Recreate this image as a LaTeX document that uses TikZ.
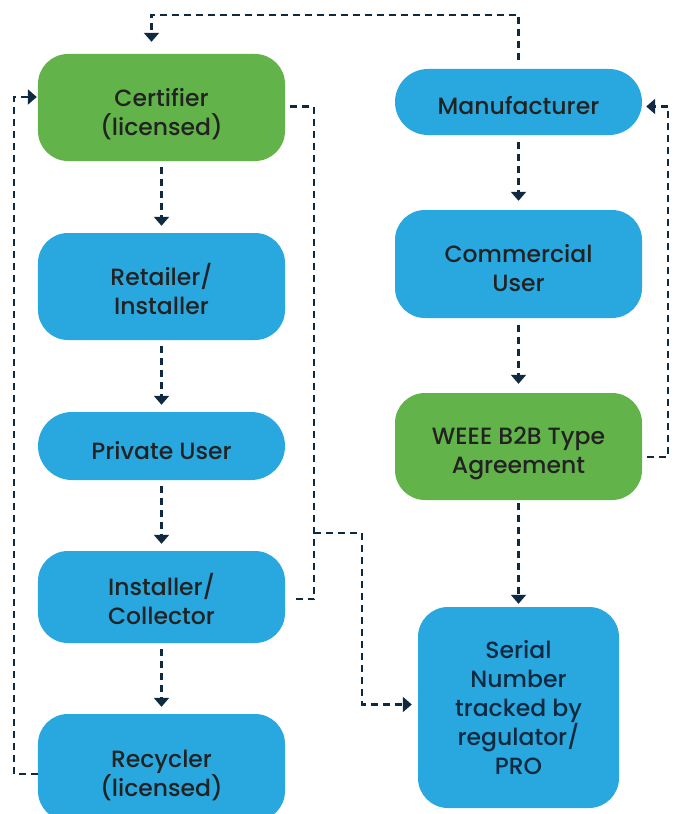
\documentclass[tikz,border=0pt]{standalone}
\usepackage{fontspec}
\setmainfont{Poppins}[UprightFont={* Medium}]
\usetikzlibrary{arrows.meta,calc}
\definecolor{boxblue}{HTML}{29A8E0}
\definecolor{boxgreen}{HTML}{62B34A}
\definecolor{navy}{HTML}{0F2A40}
\definecolor{txt}{HTML}{222222}
\tikzset{
  box/.style={fill=#1, rounded corners=30bp, inner sep=0pt},
  lbl/.style={text=txt, align=center, font=\fontsize{23.5bp}{29bp}\selectfont, inner sep=0pt},
  con/.style={draw=navy, line width=2.4bp, dash pattern=on 7bp off 5bp},
  arr/.style={con, -{Triangle[width=15bp,length=9bp]}},
}
\begin{document}
\begin{tikzpicture}[x=1bp,y=-1bp]
\useasboundingbox (0,0) rectangle (675,814);
\begin{scope}
\clip (0,0) rectangle (675,814);
\node[box=boxgreen, minimum width=247bp, minimum height=107bp] (cert) at (161.5,107.5) {};
\node[box=boxblue, minimum width=247bp, minimum height=107bp] (ret) at (161.5,286.5) {};
\node[box=boxblue, minimum width=247bp, minimum height=68bp, rounded corners=34bp] (priv) at (161.5,446) {};
\node[box=boxblue, minimum width=247bp, minimum height=92bp] (inst) at (161.5,597) {};
\node[box=boxblue, minimum width=247bp, minimum height=107bp] (rec) at (161.5,767.5) {};
\node[box=boxblue, minimum width=247bp, minimum height=66bp, rounded corners=33bp] (man) at (518.5,102) {};
\node[box=boxblue, minimum width=247bp, minimum height=108bp] (com) at (518.5,264) {};
\node[box=boxgreen, minimum width=247bp, minimum height=107bp] (weee) at (518.5,446.5) {};
\node[box=boxblue, minimum width=201bp, minimum height=201bp] (ser) at (518.5,707.5) {};
\end{scope}
% texts
\node[lbl] (certt) at ($(cert)+(0,7)$) {Certifier\\(licensed)};
\node[lbl] (rett) at ($(ret)+(0,3)$) {Retailer/\\Installer};
\node[lbl] (privt) at ($(priv)+(0,5)$) {Private User};
\node[lbl] (instt) at ($(inst)+(0,2.5)$) {Installer/\\Collector};
\node[lbl] (rect) at ($(rec)+(0,8)$) {Recycler\\(licensed)};
\node[lbl] (mant) at ($(man)+(0,4)$) {Manufacturer};
\node[lbl] (comt) at ($(com)+(0,4)$) {Commercial\\User};
\node[lbl] (weeet) at ($(weee)+(0,7)$) {WEEE B2B Type\\Agreement};
\node[lbl, text=navy] (sert) at ($(ser)+(0,0)$) {Serial\\Number\\tracked by\\regulator/\\PRO};
% vertical flows
\draw[arr, shorten <=6bp, shorten >=7bp] (cert) -- (ret);
\draw[arr, shorten <=6bp, shorten >=7bp] (ret) -- (priv);
\draw[arr, shorten <=6bp, shorten >=7bp] (priv) -- (inst);
\draw[arr, shorten <=6bp, shorten >=7bp] (inst) -- (rec);
\draw[arr, shorten <=7bp, shorten >=9bp] (man) -- (com);
\draw[arr, shorten <=7bp, shorten >=9bp] (com) -- (weee);
\draw[arr, shorten <=3bp, shorten >=3bp] (weee) -- (ser);
% manufacturer to certifier (top loop)
\draw[arr, shorten <=9bp, shorten >=12bp] (man.north) -- ++(0,-54) -| ([xshift=-10bp]cert.north);
% recycler back to certifier (left loop)
\draw[arr, shorten >=1bp] ([yshift=-6.5bp]rec.west) -- ++(-24,0) |- ([yshift=10.5bp]cert.west);
% certifier to installer/collector (right bracket)
\draw[con, shorten <=5bp, shorten >=7bp] ([yshift=1bp]cert.east) -- ++(29,0) |- ([yshift=-2bp]inst.east);
\coordinate (j) at (314,533);
\draw[arr, shorten >=6bp] (j) -- ++(48,0) |- ([yshift=3bp]ser.west);
% WEEE back to manufacturer (right loop)
\draw[arr, shorten <=5bp, shorten >=4bp] ([yshift=-10.5bp]weee.east) -- ++(26,0) |- ([yshift=-4.5bp]man.east);
\end{tikzpicture}
\end{document}
